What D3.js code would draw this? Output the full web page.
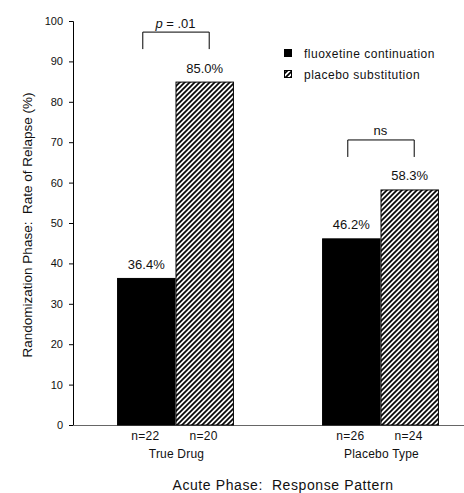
<!DOCTYPE html>
<html>
<head>
<meta charset="utf-8">
<script src="https://cdn.jsdelivr.net/npm/d3@7"></script>
<style>
  body { margin: 0; background: #fff; }
  text { font-family: Arial, "Liberation Sans", sans-serif; fill: #111; }
</style>
</head>
<body>
<div id="chart"></div>
<script>
// data
var groups = ["True Drug", "Placebo Type"];
var series = ["fluoxetine continuation", "placebo substitution"];
var fluoxetine = [36.4, 46.2];
var placebo = [85.0, 58.3];
var nFluox = [22, 26];
var nPlacebo = [20, 24];
var compareLabels = ["p = .01", "ns"];
var yTicks = [0, 10, 20, 30, 40, 50, 60, 70, 80, 90, 100];

var width = 464, height = 493;

var svg = d3.select("#chart")
    .append("svg")
    .attr("width", width)
    .attr("height", height);

// hatch pattern
var defs = svg.append("defs");
defs.append("pattern")
    .attr("id", "hatch")
    .attr("patternUnits", "userSpaceOnUse")
    .attr("width", 5)
    .attr("height", 5)
    .append("path")
    .attr("d", "M-1,1 l2,-2 M0,5 l5,-5 M4,6 l2,-2")
    .attr("stroke", "#000")
    .attr("stroke-width", 1.7);

var y = d3.scaleLinear().domain([0, 100]).range([425, 21]);

var x0 = d3.scaleBand()
    .domain(groups)
    .range([73, 483])
    .paddingInner(0.43)
    .paddingOuter(0.215);

var x1 = d3.scaleBand()
    .domain(series)
    .range([0, x0.bandwidth()]);

// y axis
var yAxis = svg.append("g")
    .attr("transform", "translate(73,0)")
    .call(d3.axisLeft(y).tickValues(yTicks).tickSize(4).tickPadding(6));
yAxis.select(".domain").attr("stroke", "#000");
yAxis.selectAll("text").style("font-size", "11px").style("fill", "#111");

// x axis line
svg.append("line")
    .attr("x1", 73).attr("x2", 483)
    .attr("y1", y(0) + 0.5).attr("y2", y(0) + 0.5)
    .attr("stroke", "#666");

// bars
var rows = groups.map(function(g, i) {
    return [
        { group: g, s: series[0], v: fluoxetine[i], n: nFluox[i] },
        { group: g, s: series[1], v: placebo[i], n: nPlacebo[i] }
    ];
});

var gGroup = svg.selectAll(".grp")
    .data(rows)
    .enter()
    .append("g")
    .attr("class", "grp")
    .attr("transform", function(d, i) { return "translate(" + x0(groups[i]) + ",0)"; });

gGroup.selectAll("rect")
    .data(function(d) { return d; })
    .enter()
    .append("rect")
    .attr("x", function(d) { return x1(d.s) + 0.5; })
    .attr("y", function(d) { return y(d.v) + 0.5; })
    .attr("width", x1.bandwidth() - 1)
    .attr("height", function(d) { return y(0) - y(d.v) - 0.5; })
    .attr("fill", function(d) { return d.s == series[0] ? "#000" : "url(#hatch)"; })
    .attr("stroke", "#000")
    .attr("stroke-width", 1);

// value labels
gGroup.selectAll(".val")
    .data(function(d) { return d; })
    .enter()
    .append("text")
    .attr("class", "val")
    .attr("x", function(d) { return x1(d.s) + x1.bandwidth() / 2; })
    .attr("y", function(d) { return y(d.v) - 9; })
    .attr("text-anchor", "middle")
    .style("font-size", "13px")
    .text(function(d) { return d.v.toFixed(1) + "%"; });

// n labels
gGroup.selectAll(".n")
    .data(function(d) { return d; })
    .enter()
    .append("text")
    .attr("class", "n")
    .attr("x", function(d) { return x1(d.s) + x1.bandwidth() / 2 - 1; })
    .attr("y", 440)
    .attr("text-anchor", "middle")
    .style("font-size", "12px")
    .style("letter-spacing", "0.3px")
    .text(function(d) { return "n=" + d.n; });

// group labels
gGroup.append("text")
    .attr("x", x0.bandwidth() / 2 + 1)
    .attr("y", 458)
    .attr("text-anchor", "middle")
    .style("font-size", "12px")
    .style("letter-spacing", "0.2px")
    .text(function(d, i) { return groups[i]; });

// significance brackets
gGroup.each(function(d, i) {
    var g = d3.select(this);
    var top = y(Math.max(fluoxetine[i], placebo[i]));
    var yb = top - 50;
    var xa = x1(series[0]) + x1.bandwidth() / 2 - 4;
    var xb = x1(series[1]) + x1.bandwidth() / 2 + 4;
    g.append("path")
        .attr("d", "M" + xa + "," + (yb + 17) + "V" + yb + "H" + xb + "V" + (yb + 17))
        .attr("transform", "translate(0.5,0.5)")
        .attr("fill", "none")
        .attr("stroke", "#000");
    var t = g.append("text")
        .attr("x", (xa + xb) / 2)
        .attr("y", yb - 4)
        .attr("text-anchor", "middle")
        .style("font-size", "13px");
    if (compareLabels[i].charAt(0) == "p") {
        t.append("tspan").style("font-style", "italic").text("p");
        t.append("tspan").text(compareLabels[i].slice(1));
    } else {
        t.text(compareLabels[i]);
    }
});

// legend
var legend = svg.append("g").attr("transform", "translate(284,49)");
series.forEach(function(s, i) {
    legend.append("rect")
        .attr("x", 0.5).attr("y", i * 21 + 0.5)
        .attr("width", 7).attr("height", 7)
        .attr("fill", i == 0 ? "#000" : "url(#hatch)")
        .attr("stroke", "#000");
    legend.append("text")
        .attr("x", 20)
        .attr("y", i * 21 + 8.5)
        .style("font-size", "12px")
        .style("letter-spacing", "0.5px")
        .text(s);
});

// axis titles
svg.append("text")
    .attr("transform", "translate(32,225) rotate(-90)")
    .attr("text-anchor", "middle")
    .style("font-size", "13.5px")
    .style("white-space", "pre")
    .text("Randomization Phase:  Rate of Relapse (%)");

svg.append("text")
    .attr("x", 283)
    .attr("y", 490)
    .attr("text-anchor", "middle")
    .style("font-size", "14px")
    .style("letter-spacing", "0.6px")
    .style("white-space", "pre")
    .text("Acute Phase:  Response Pattern");
</script>
</body>
</html>
